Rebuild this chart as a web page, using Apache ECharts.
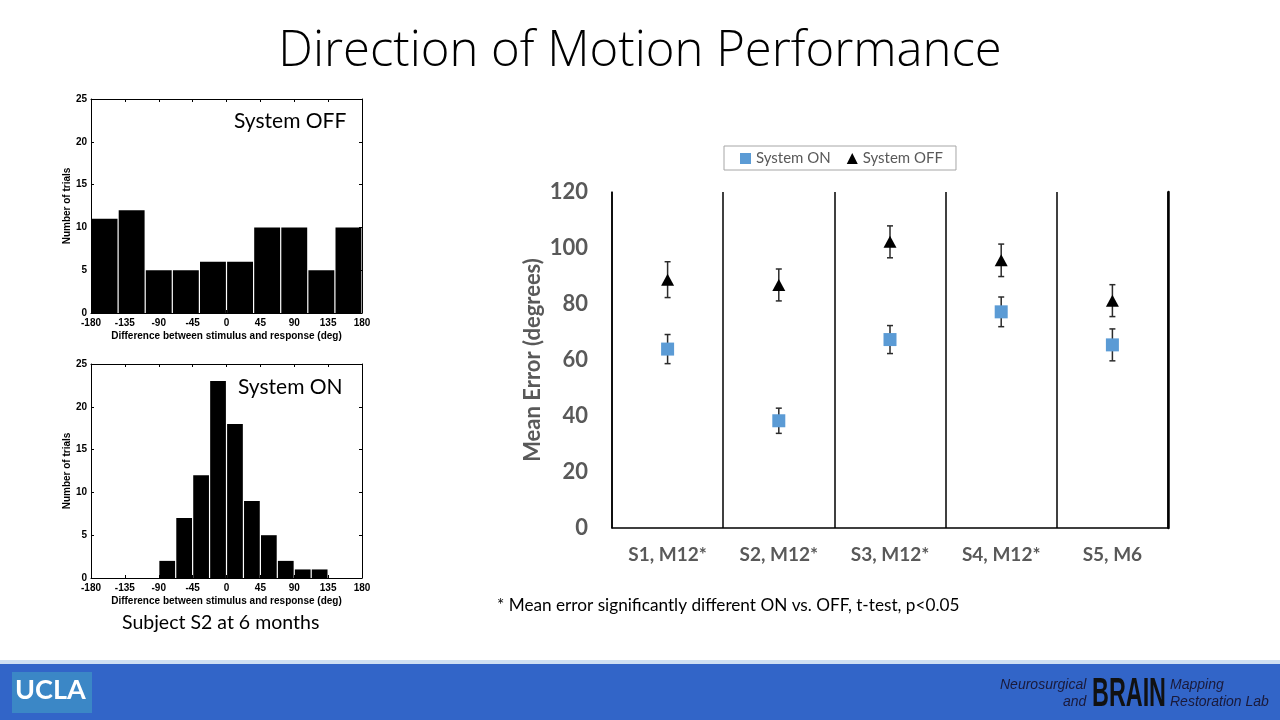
<!DOCTYPE html>
<html>
<head>
<meta charset="utf-8">
<script src="https://cdn.jsdelivr.net/npm/echarts@6/dist/echarts.min.js"></script>
<style>
  html, body { margin: 0; padding: 0; background: #fff; }
  #chart { width: 1280px; height: 720px; }
</style>
</head>
<body>
<div id="chart"></div>
<script>
// ---------- Data ----------
// Histogram, System OFF (bin edges in degrees, counts per bin)
const offEdges = [-180, -144, -108, -72, -36, 0, 36, 72, 108, 144, 180];
const offCounts = [11, 12, 5, 5, 6, 6, 10, 10, 5, 10];
// Histogram, System ON
const onEdges = [-90, -67.5, -45, -22.5, 0, 22.5, 45, 67.5, 90, 112.5, 135];
const onCounts = [2, 7, 12, 23, 18, 9, 5, 2, 1, 1];

// Mean error chart
const subjects = ['S1, M12*', 'S2, M12*', 'S3, M12*', 'S4, M12*', 'S5, M6'];
const onMean = [63.9, 38.3, 67.3, 77.2, 65.4];
const onErr = [5.2, 4.5, 5.0, 5.3, 5.7];
const offMean = [88.7, 86.8, 102.2, 95.6, 81.2];
const offErr = [6.4, 5.7, 5.7, 5.8, 5.7];

// ---------- Build ----------
function binData(edges, counts) {
  return counts.map((c, i) => [edges[i], edges[i + 1], c]);
}
function errData(means, errs) {
  return means.map((m, i) => [i, m - errs[i], m + errs[i]]);
}
function renderBin(params, api) {
  const p0 = api.coord([api.value(0), 0]);
  const p1 = api.coord([api.value(1), api.value(2)]);
  return {
    type: 'rect',
    shape: { x: p0[0] + 0.6, y: p1[1], width: p1[0] - p0[0] - 1.2, height: p0[1] - p1[1] },
    style: { fill: '#000' }
  };
}
function renderErr(params, api) {
  const idx = api.value(0);
  const lo = api.coord([idx, api.value(1)]);
  const hi = api.coord([idx, api.value(2)]);
  const c = 3;
  const st = { stroke: '#2b2b2b', lineWidth: 1.5 };
  return {
    type: 'group',
    children: [
      { type: 'line', shape: { x1: lo[0], y1: lo[1], x2: hi[0], y2: hi[1] }, style: st },
      { type: 'line', shape: { x1: lo[0] - c, y1: lo[1], x2: lo[0] + c, y2: lo[1] }, style: st },
      { type: 'line', shape: { x1: hi[0] - c, y1: hi[1], x2: hi[0] + c, y2: hi[1] }, style: st }
    ]
  };
}

const HF = 'Liberation Sans';
const CF = 'Lato';
const histLabel = { fontFamily: HF, fontSize: 10, fontWeight: 'bold', color: '#000' };

function histXAxis(gridIndex, pos, withLabels) {
  return {
    type: 'value', gridIndex, position: pos, min: -180, max: 180, interval: 45,
    axisLine: { onZero: false, lineStyle: { color: '#000', width: 1 } },
    axisTick: { show: true, inside: true, length: 3, lineStyle: { color: '#000' } },
    axisLabel: withLabels ? Object.assign({ show: true, margin: 5 }, histLabel) : { show: false },
    splitLine: { show: false },
    name: withLabels ? 'Difference between stimulus and response (deg)' : '',
    nameLocation: 'middle', nameGap: 18,
    nameTextStyle: histLabel
  };
}
function histYAxis(gridIndex, pos, withLabels) {
  return {
    type: 'value', gridIndex, position: pos, min: 0, max: 25, interval: 5,
    axisLine: { onZero: false, lineStyle: { color: '#000', width: 1 } },
    axisTick: { show: true, inside: true, length: 3, lineStyle: { color: '#000' } },
    axisLabel: withLabels ? Object.assign({ show: true, margin: 4 }, histLabel) : { show: false },
    splitLine: { show: false },
    name: withLabels ? 'Number of trials' : '',
    nameLocation: 'middle', nameGap: 19,
    nameTextStyle: histLabel
  };
}

const option = {
  animation: false,
  backgroundColor: '#fff',
  grid: [
    { left: 91, top: 99, width: 271, height: 214 },
    { left: 91, top: 364, width: 271, height: 214 },
    { left: 612, top: 192, width: 556, height: 336 }
  ],
  legend: {
    left: 724, top: 146,
    borderColor: '#a6a6a6', borderWidth: 1, borderRadius: 0,
    padding: [5, 13, 4, 16], itemGap: 16, itemWidth: 11, itemHeight: 11,
    textStyle: { fontFamily: CF, fontSize: 15, color: '#595959' },
    data: [{ name: 'System ON', icon: 'rect' }, { name: 'System OFF', icon: 'triangle' }]
  },
  xAxis: [
    histXAxis(0, 'bottom', true),
    histXAxis(0, 'top', false),
    histXAxis(1, 'bottom', true),
    histXAxis(1, 'top', false),
    {
      type: 'category', gridIndex: 2, data: subjects, boundaryGap: true,
      axisLine: { lineStyle: { color: '#000', width: 1.5 } },
      axisTick: { show: false },
      axisLabel: { fontFamily: CF, fontSize: 19, fontWeight: 'bold', color: '#595959', margin: 17 },
      splitLine: { show: true, interval: 0, lineStyle: { color: '#000', width: 1.5 } }
    }
  ],
  yAxis: [
    histYAxis(0, 'left', true),
    histYAxis(0, 'right', false),
    histYAxis(1, 'left', true),
    histYAxis(1, 'right', false),
    {
      type: 'value', gridIndex: 2, position: 'left', min: 0, max: 120, interval: 20,
      axisLine: { show: true, onZero: false, lineStyle: { color: '#000', width: 1.5 } },
      axisTick: { show: false },
      splitLine: { show: false },
      axisLabel: { fontFamily: CF, fontSize: 22, fontWeight: 'bold', color: '#595959', margin: 24 },
      name: 'Mean Error (degrees)', nameLocation: 'middle', nameGap: 68,
      nameTextStyle: { fontFamily: CF, fontSize: 22, fontWeight: 'bold', color: '#595959' }
    },
    {
      type: 'value', gridIndex: 2, position: 'right', min: 0, max: 120, interval: 20,
      axisLine: { show: true, onZero: false, lineStyle: { color: '#000', width: 2.5 } },
      axisTick: { show: false }, axisLabel: { show: false }, splitLine: { show: false }
    }
  ],
  series: [
    { type: 'custom', xAxisIndex: 0, yAxisIndex: 0, data: binData(offEdges, offCounts), renderItem: renderBin, silent: true },
    { type: 'custom', xAxisIndex: 2, yAxisIndex: 2, data: binData(onEdges, onCounts), renderItem: renderBin, silent: true },
    { type: 'custom', xAxisIndex: 4, yAxisIndex: 4, data: errData(onMean, onErr), renderItem: renderErr, z: 2 },
    { type: 'custom', xAxisIndex: 4, yAxisIndex: 4, data: errData(offMean, offErr), renderItem: renderErr, z: 2 },
    {
      name: 'System ON', type: 'scatter', xAxisIndex: 4, yAxisIndex: 4,
      symbol: 'rect', symbolSize: 13, itemStyle: { color: '#5B9BD5', opacity: 1 }, data: onMean, z: 3
    },
    {
      name: 'System OFF', type: 'scatter', xAxisIndex: 4, yAxisIndex: 4,
      symbol: 'triangle', symbolSize: [13, 12], itemStyle: { color: '#000', opacity: 1 }, data: offMean, z: 3
    }
  ],
  graphic: [
    { type: 'text', left: 'center', top: 28,
      style: { text: 'Direction of Motion Performance', font: '300 49px "Open Sans"', fill: '#000' } },
    { type: 'text', left: 234, top: 111,
      style: { text: 'System OFF', font: '21px Lato', fill: '#000' } },
    { type: 'text', left: 238, top: 377,
      style: { text: 'System ON', font: '21px Lato', fill: '#000' } },
    { type: 'text', left: 122, top: 613,
      style: { text: 'Subject S2 at 6 months', font: '19.5px Lato', fill: '#000' } },
    { type: 'text', left: 497, top: 597,
      style: { text: '* Mean error significantly different ON vs. OFF, t-test, p<0.05', font: '17.2px Lato', fill: '#000' } },
    // footer
    { type: 'rect', shape: { x: 0, y: 660, width: 1280, height: 4 }, style: { fill: '#cfe0f2' } },
    { type: 'rect', shape: { x: 0, y: 664, width: 1280, height: 56 }, style: { fill: '#3265C8' } },
    { type: 'rect', shape: { x: 12, y: 672, width: 80, height: 41 }, style: { fill: '#3B87C6' } },
    { type: 'text', left: 15, top: 677,
      style: { text: 'UCLA', font: 'bold 27px Lato', fill: '#fff' } },
    { type: 'text', left: 1000, top: 678,
      style: { text: 'Neurosurgical', font: 'italic 14px "Liberation Sans"', fill: '#1a1a3a' } },
    { type: 'text', left: 1063, top: 695,
      style: { text: 'and', font: 'italic 14px "Liberation Sans"', fill: '#1a1a3a' } },
    { type: 'text', x: 1092, y: 695, scaleX: 0.57,
      style: { text: 'BRAIN', font: 'bold 41px "Liberation Sans"', fill: '#111', verticalAlign: 'middle', textVerticalAlign: 'middle' } },
    { type: 'text', left: 1170, top: 678,
      style: { text: 'Mapping', font: 'italic 14px "Liberation Sans"', fill: '#1a1a3a' } },
    { type: 'text', left: 1170, top: 695,
      style: { text: 'Restoration Lab', font: 'italic 14px "Liberation Sans"', fill: '#1a1a3a' } }
  ]
};

const chart = echarts.init(document.getElementById('chart'), null, { renderer: 'canvas' });
chart.setOption(option);
</script>
</body>
</html>
